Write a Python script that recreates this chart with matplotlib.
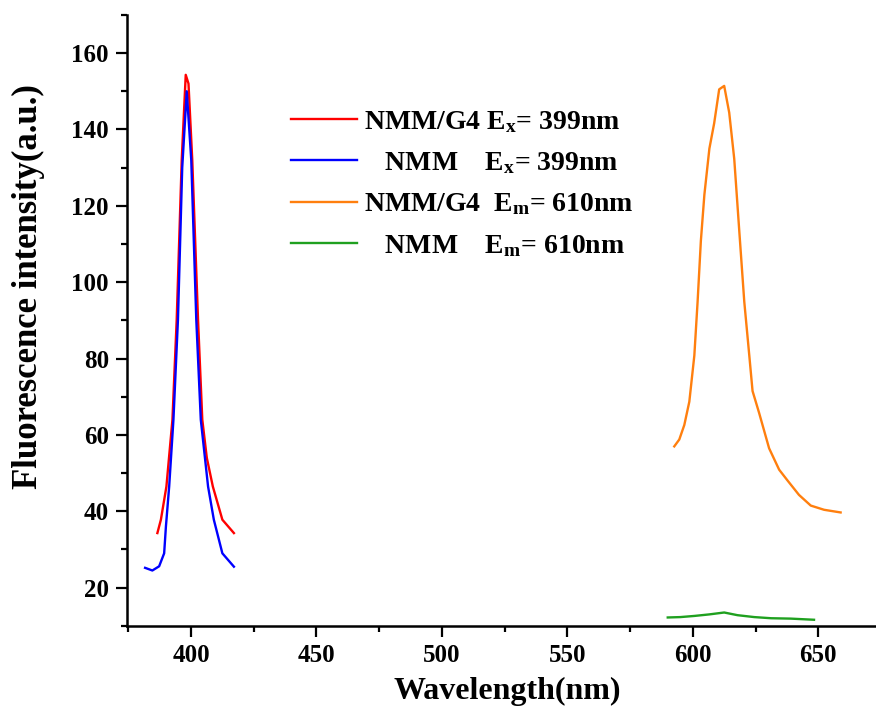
import matplotlib
matplotlib.use("Agg")
import matplotlib.pyplot as plt
from matplotlib.ticker import MultipleLocator

plt.rcParams['font.family'] = ['Liberation Serif', 'DejaVu Serif']
plt.rcParams['font.weight'] = 'bold'
plt.rcParams['mathtext.fontset'] = 'custom'
plt.rcParams['mathtext.rm'] = 'Liberation Serif:bold'
plt.rcParams['mathtext.it'] = 'Liberation Serif:bold'
plt.rcParams['mathtext.bf'] = 'Liberation Serif:bold'

# NMM/G4 excitation (red)
red_x = [386.6, 388.0, 390.2, 392.6, 394.3, 396.3, 397.9, 399.0, 400.5, 402.8, 404.5, 406.3, 408.7, 412.5, 417.1]
red_y = [34.3, 37.8, 46.5, 64.0, 90.2, 132.0, 154.3, 152.0, 132.0, 90.2, 64.0, 54.0, 46.5, 37.8, 34.3]

# NMM excitation (blue)
blue_x = [381.7, 384.6, 387.3, 389.3, 390.0, 391.3, 393.0, 394.8, 396.5, 398.3, 400.1, 402.1, 403.9, 406.8, 409.1, 412.5, 417.1]
blue_y = [25.2, 24.5, 25.6, 29.0, 36.0, 46.5, 64.0, 90.2, 130.0, 150.0, 132.0, 90.2, 64.0, 46.5, 37.8, 29.0, 25.5]

# NMM/G4 emission (orange)
orange_x = [592.6, 594.6, 596.6, 598.6, 600.6, 601.9, 603.2, 604.6, 606.6, 608.5, 610.5, 612.5, 614.5, 616.5, 618.5, 620.5, 622.5, 623.8, 626.4, 630.4, 634.4, 637.7, 642.3, 647.0, 652.3, 658.9]
orange_y = [57.0, 58.8, 62.6, 68.7, 80.8, 94.9, 110.8, 122.9, 135.0, 141.6, 150.5, 151.4, 144.4, 132.3, 113.5, 94.9, 80.8, 71.5, 65.8, 56.5, 50.9, 48.1, 44.3, 41.5, 40.4, 39.7]

# NMM emission (green)
green_x = [590.0, 595.0, 600.6, 606.5, 612.5, 617.8, 624.5, 631.2, 639.0, 648.3]
green_y = [12.2, 12.3, 12.6, 13.0, 13.5, 12.8, 12.3, 12.0, 11.9, 11.6]

labels = [r"NMM/G4 E$_{\mathrm{x}}$= 399nm",
          r"   NMM    E$_{\mathrm{x}}$= 399nm",
          r"NMM/G4  E$_{\mathrm{m}}$= 610nm",
          r"   NMM    E$_{\mathrm{m}}$= 610nm"]

fig = plt.figure(figsize=(8.76, 7.08), dpi=100)
ax = fig.add_axes([0.145, 0.116, 0.855, 0.863])

ax.plot(red_x, red_y, color='#ff0000', lw=1.7, label=labels[0])
ax.plot(blue_x, blue_y, color='#0000ff', lw=1.7, label=labels[1])
ax.plot(orange_x, orange_y, color='#ff7f0e', lw=1.7, label=labels[2])
ax.plot(green_x, green_y, color='#1fa01f', lw=1.7, label=labels[3])

ax.set_xlim(374.5, 673)
ax.set_ylim(10, 170)
ax.xaxis.set_major_locator(MultipleLocator(50))
ax.xaxis.set_minor_locator(MultipleLocator(25))
ax.yaxis.set_major_locator(MultipleLocator(20))
ax.yaxis.set_minor_locator(MultipleLocator(10))
ax.set_yticks([20, 40, 60, 80, 100, 120, 140, 160])

for s in ['top', 'right']:
    ax.spines[s].set_visible(False)
for s in ['left', 'bottom']:
    ax.spines[s].set_linewidth(1.8)

ax.tick_params(which='major', direction='out', length=8, width=1.6, labelsize=18, pad=5)
ax.tick_params(which='minor', direction='out', length=4, width=1.6)
for lab in ax.get_xticklabels() + ax.get_yticklabels():
    lab.set_fontweight('bold')

ax.set_xlabel('Wavelength(nm)', fontsize=23, fontweight='bold')
ax.xaxis.set_label_coords(0.507, -0.084)
ax.set_ylabel('Fluorescence intensity(a.u.)', fontsize=25, fontweight='bold')
ax.yaxis.set_label_coords(-0.109, 0.556)

leg = ax.legend(loc='upper left', bbox_to_anchor=(0.186, 0.887), frameon=False,
                handlelength=2.35, handletextpad=0.25, labelspacing=0.555,
                prop={'weight': 'bold', 'size': 20})

fig.savefig('out.png', dpi=100)
